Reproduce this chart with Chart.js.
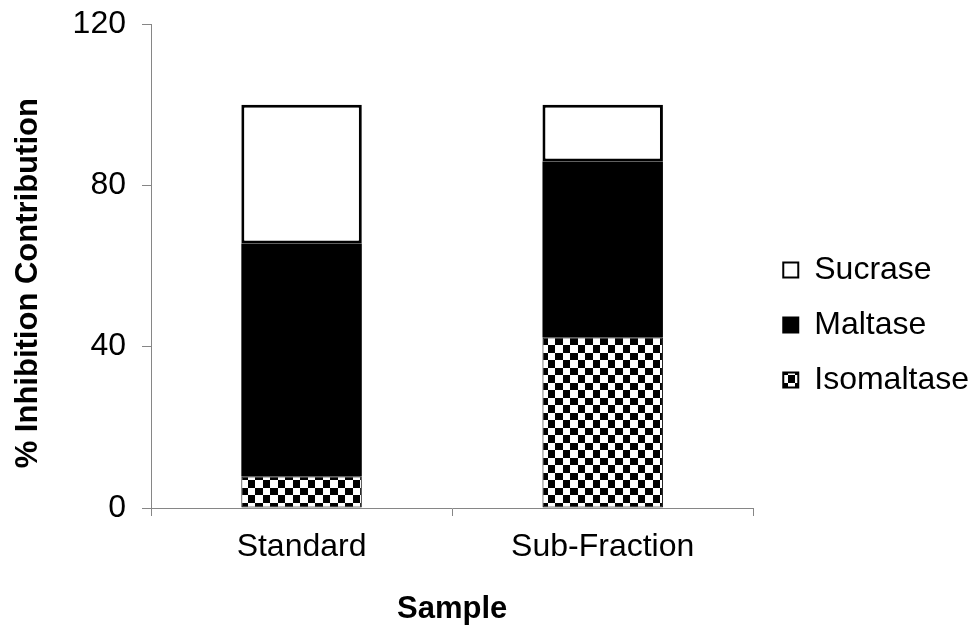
<!DOCTYPE html>
<html>
<head>
<meta charset="utf-8">
<script src="https://cdn.jsdelivr.net/npm/chart.js@4"></script>
<style>
  html, body { margin: 0; padding: 0; background: #fff; }
  #wrap { width: 976px; height: 637px; }
</style>
</head>
<body>
<div id="wrap"><canvas id="chart"></canvas></div>
<script>
const categories = ["Standard", "Sub-Fraction"];
const isomaltase = [7.8, 42.3];
const maltase = [57.8, 43.6];
const sucrase = [34.4, 14.1];
const yTicks = [0, 40, 80, 120];

const axisGrey = "#868686";
const font = { family: "'Liberation Sans', Arial, sans-serif", size: 32 };
const boldFont = { family: font.family, size: 31, weight: "bold" };

// checkerboard fill, like the excel "large checker" pattern
function checker() {
  const c = document.createElement("canvas");
  c.width = c.height = 15;
  const g = c.getContext("2d");
  g.fillStyle = "#000";
  g.fillRect(0, 0, 15, 15);
  g.fillStyle = "#fff";
  g.fillRect(0, 0, 8, 8);
  g.fillRect(8, 8, 7, 7);
  return g.createPattern(c, "repeat");
}

// legend sits a bit right of / above where chart.js puts it
const nudgeLegend = {
  id: "nudgeLegend",
  afterLayout(chart) {
    const l = chart.legend;
    l.left += 7; l.right += 7;
    l.top -= 3; l.bottom -= 3;
  }
};

Chart.defaults.color = "#000";

const ctx = document.getElementById("chart").getContext("2d");
new Chart(ctx, {
  type: "bar",
  data: {
    labels: categories,
    datasets: [
      { label: "Isomaltase", data: isomaltase, backgroundColor: checker(), borderColor: "#000", borderWidth: 1, borderSkipped: false },
      { label: "Maltase", data: maltase, backgroundColor: "#000", borderColor: "#000", borderWidth: 0 },
      { label: "Sucrase", data: sucrase, backgroundColor: "#fff", borderColor: "#000", borderWidth: 3, borderSkipped: false }
    ]
  },
  plugins: [nudgeLegend],
  options: {
    responsive: true,
    maintainAspectRatio: false,
    animation: false,
    barPercentage: 0.4,
    categoryPercentage: 1.0,
    layout: { padding: { top: 24, left: 10, right: 4, bottom: 5 } },
    scales: {
      x: {
        stacked: true,
        grid: { drawOnChartArea: false, offset: true, tickLength: 8, color: axisGrey },
        border: { color: axisGrey },
        ticks: { font, padding: 12, color: "#000" },
        title: { display: true, text: "Sample", font: boldFont, padding: { top: 0, bottom: 4 } },
        afterFit: s => { s.height = 124; }
      },
      y: {
        stacked: true,
        min: 0,
        max: 120,
        afterBuildTicks: s => { s.ticks = yTicks.map(v => ({ value: v })); },
        grid: { drawOnChartArea: false, tickLength: 9, color: axisGrey },
        border: { color: axisGrey },
        ticks: { font, padding: 16, color: "#000" },
        // trailing spaces push the title down, as in the original
        title: { display: true, text: "% Inhibition Contribution    ", font: boldFont, padding: { top: 0, bottom: 0 } },
        afterFit: s => { s.width = 141; s.paddingTop = 0; s.paddingBottom = 0; }
      }
    },
    plugins: {
      tooltip: { enabled: false },
      legend: {
        position: "right",
        reverse: true,
        labels: {
          font,
          color: "#000",
          boxWidth: 15,
          boxHeight: 15,
          padding: 23,
          generateLabels(chart) {
            const items = Chart.defaults.plugins.legend.labels.generateLabels(chart);
            items.forEach(it => { it.lineWidth = 2; it.strokeStyle = "#000"; });
            return items;
          }
        }
      }
    }
  }
});
</script>
</body>
</html>
